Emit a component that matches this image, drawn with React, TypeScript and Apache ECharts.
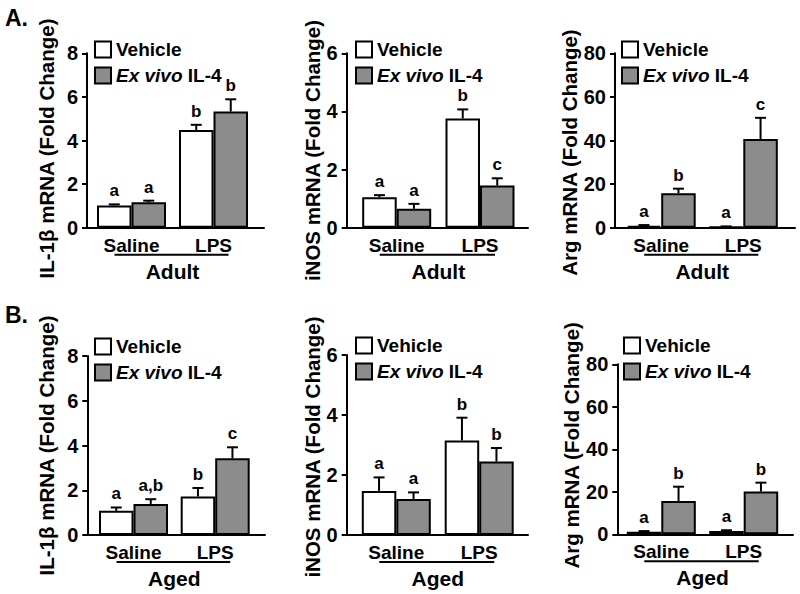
import React, { useEffect, useRef } from 'react';
import * as echarts from 'echarts';

// ---------- data ----------
const categories = ['Saline', 'LPS'];
const seriesNames = ['Vehicle', 'Ex vivo IL-4'];

const il1bTicks = [0, 2, 4, 6, 8];
const inosTicks = [0, 2, 4, 6];
const argTicks = [0, 20, 40, 60, 80];

// A. Adult
const il1bAdultVehicle = [1.02, 4.48];
const il1bAdultVehicleSem = [0.05, 0.24];
const il1bAdultIL4 = [1.17, 5.33];
const il1bAdultIL4Sem = [0.07, 0.56];
const il1bAdultVehicleLetters = ['a', 'b'];
const il1bAdultIL4Letters = ['a', 'b'];

const inosAdultVehicle = [1.05, 3.76];
const inosAdultVehicleSem = [0.07, 0.31];
const inosAdultIL4 = [0.65, 1.45];
const inosAdultIL4Sem = [0.17, 0.25];
const inosAdultVehicleLetters = ['a', 'b'];
const inosAdultIL4Letters = ['a', 'c'];

const argAdultVehicle = [0.9, 0.4];
const argAdultVehicleSem = [0.3, 0.2];
const argAdultIL4 = [15.8, 40.7];
const argAdultIL4Sem = [2.1, 9.7];
const argAdultVehicleLetters = ['a', 'a'];
const argAdultIL4Letters = ['b', 'c'];

// B. Aged
const il1bAgedVehicle = [1.08, 1.72];
const il1bAgedVehicleSem = [0.15, 0.38];
const il1bAgedIL4 = [1.38, 3.43];
const il1bAgedIL4Sem = [0.22, 0.49];
const il1bAgedVehicleLetters = ['a', 'b'];
const il1bAgedIL4Letters = ['a,b', 'c'];

const inosAgedVehicle = [1.47, 3.15];
const inosAgedVehicleSem = [0.45, 0.76];
const inosAgedIL4 = [1.2, 2.45];
const inosAgedIL4Sem = [0.22, 0.45];
const inosAgedVehicleLetters = ['a', 'b'];
const inosAgedIL4Letters = ['a', 'b'];

const argAgedVehicle = [1.2, 1.5];
const argAgedVehicleSem = [0.3, 0.4];
const argAgedIL4 = [15.7, 20.1];
const argAgedIL4Sem = [6.7, 4.2];
const argAgedVehicleLetters = ['a', 'a'];
const argAgedIL4Letters = ['b', 'b'];

const panels = [
  { yName: 'IL-1β mRNA (Fold Change)', group: 'Adult', ticks: il1bTicks, veh: il1bAdultVehicle, vehSem: il1bAdultVehicleSem, il4: il1bAdultIL4, il4Sem: il1bAdultIL4Sem, vehL: il1bAdultVehicleLetters, il4L: il1bAdultIL4Letters },
  { yName: 'iNOS mRNA (Fold Change)', group: 'Adult', ticks: inosTicks, veh: inosAdultVehicle, vehSem: inosAdultVehicleSem, il4: inosAdultIL4, il4Sem: inosAdultIL4Sem, vehL: inosAdultVehicleLetters, il4L: inosAdultIL4Letters },
  { yName: 'Arg mRNA (Fold Change)', group: 'Adult', ticks: argTicks, veh: argAdultVehicle, vehSem: argAdultVehicleSem, il4: argAdultIL4, il4Sem: argAdultIL4Sem, vehL: argAdultVehicleLetters, il4L: argAdultIL4Letters },
  { yName: 'IL-1β mRNA (Fold Change)', group: 'Aged', ticks: il1bTicks, veh: il1bAgedVehicle, vehSem: il1bAgedVehicleSem, il4: il1bAgedIL4, il4Sem: il1bAgedIL4Sem, vehL: il1bAgedVehicleLetters, il4L: il1bAgedIL4Letters },
  { yName: 'iNOS mRNA (Fold Change)', group: 'Aged', ticks: inosTicks, veh: inosAgedVehicle, vehSem: inosAgedVehicleSem, il4: inosAgedIL4, il4Sem: inosAgedIL4Sem, vehL: inosAgedVehicleLetters, il4L: inosAgedIL4Letters },
  { yName: 'Arg mRNA (Fold Change)', group: 'Aged', ticks: argTicks, veh: argAgedVehicle, vehSem: argAgedVehicleSem, il4: argAgedIL4, il4Sem: argAgedIL4Sem, vehL: argAgedVehicleLetters, il4L: argAgedIL4Letters },
];

// ---------- layout (pixels) ----------
const layouts = [
  { axisX: 87, axisEnd: 264, top: 53.3, zero: 227.7, c1: 131.5, c2: 213.5, nameGap: 30, nameShift: 8, legX: 94, legY: 40 },
  { axisX: 346.7, axisEnd: 528, top: 53.3, zero: 227.7, c1: 396.7, c2: 480, nameGap: 22, nameShift: 10, legX: 355, legY: 40 },
  { axisX: 615, axisEnd: 795, top: 53.3, zero: 227.7, c1: 661.2, c2: 743.3, nameGap: 30, nameShift: 12, legX: 621, legY: 40 },
  { axisX: 87.3, axisEnd: 265, top: 356, zero: 535, c1: 133.5, c2: 215.2, nameGap: 30, nameShift: 0, legX: 94, legY: 337 },
  { axisX: 346.7, axisEnd: 528, top: 355, zero: 535, c1: 396.3, c2: 479.2, nameGap: 22, nameShift: 2, legX: 355, legY: 336 },
  { axisX: 617.3, axisEnd: 793, top: 364.3, zero: 534.3, c1: 661.3, c2: 743.7, nameGap: 32, nameShift: -4, legX: 623, legY: 336 },
];

const FONT = '"Liberation Sans", Arial, Helvetica, sans-serif';
const GRAY = '#8c8c8c';
const BAR_W = 34.5;

function makeErrorRenderer(sign: number, letters: string[]) {
  return (params: any, api: any) => {
    const cat = api.value(0);
    const mean = api.value(1);
    const sem = api.value(2);
    const base = api.coord([cat, mean]);
    const tip = api.coord([cat, mean + sem]);
    const x = base[0] + (sign * BAR_W) / 2;
    return {
      type: 'group',
      children: [
        { type: 'line', shape: { x1: x, y1: base[1], x2: x, y2: tip[1] }, style: { stroke: '#000', lineWidth: 2 } },
        { type: 'line', shape: { x1: x - 5.5, y1: tip[1], x2: x + 5.5, y2: tip[1] }, style: { stroke: '#000', lineWidth: 2 } },
        {
          type: 'text',
          x,
          y: tip[1] - 5,
          style: {
            text: letters[params.dataIndex],
            align: 'center',
            verticalAlign: 'bottom',
            fontSize: 17,
            fontWeight: 'bold',
            fontFamily: FONT,
            fill: '#000',
          },
        },
      ],
    };
  };
}

function buildOption() {
  const grid: any[] = [];
  const xAxis: any[] = [];
  const yAxis: any[] = [];
  const series: any[] = [];
  const legend: any[] = [];
  const graphic: any[] = [];

  panels.forEach((p, i) => {
    const L = layouts[i];
    const min = p.ticks[0];
    const max = p.ticks[p.ticks.length - 1];
    const interval = p.ticks[1] - p.ticks[0];
    const step = L.c2 - L.c1;

    const frameGrid = grid.length;
    grid.push({ left: L.axisX, top: L.top, width: L.axisEnd - L.axisX, height: L.zero - L.top });
    const dataGrid = grid.length;
    grid.push({ left: L.c1 - step / 2, top: L.top, width: step * 2, height: L.zero - L.top });

    xAxis.push({
      gridIndex: frameGrid, type: 'value', min: 0, max: 1,
      axisLine: { show: true, onZero: false, lineStyle: { color: '#000', width: 2 } },
      axisTick: { show: false }, axisLabel: { show: false }, splitLine: { show: false },
    });
    const shift = L.nameShift;
    yAxis.push({
      gridIndex: frameGrid, type: 'value', min, max, interval,
      axisLine: { show: true, onZero: false, lineStyle: { color: '#000', width: 2 } },
      axisTick: { show: true, length: 5, lineStyle: { color: '#000', width: 2 } },
      axisLabel: { margin: 9, fontSize: 20, fontWeight: 'bold', color: '#000', fontFamily: FONT },
      splitLine: { show: false },
      name: p.yName, nameLocation: 'middle', nameGap: L.nameGap,
      nameTextStyle: {
        fontSize: 20.5, fontWeight: 'bold', color: '#000', fontFamily: FONT,
        padding: shift >= 0 ? [0, shift * 2, 0, 0] : [0, 0, 0, -shift * 2],
      },
    });

    const xi = xAxis.length;
    xAxis.push({
      gridIndex: dataGrid, type: 'category', data: categories,
      axisLine: { show: false }, axisTick: { show: false },
      axisLabel: { margin: 8, fontSize: 19, fontWeight: 'bold', color: '#000', fontFamily: FONT },
      name: p.group, nameLocation: 'middle', nameGap: 33,
      nameTextStyle: { fontSize: 21, fontWeight: 'bold', color: '#000', fontFamily: FONT },
    });
    const yi = yAxis.length;
    yAxis.push({ gridIndex: dataGrid, type: 'value', min, max, show: false });

    series.push({
      type: 'bar', name: seriesNames[0], xAxisIndex: xi, yAxisIndex: yi, data: p.veh,
      barWidth: BAR_W, barGap: '0%',
      itemStyle: { color: '#ffffff', borderColor: '#000', borderWidth: 2 },
    });
    series.push({
      type: 'bar', name: seriesNames[1], xAxisIndex: xi, yAxisIndex: yi, data: p.il4,
      barWidth: BAR_W, barGap: '0%',
      itemStyle: { color: GRAY, borderColor: '#000', borderWidth: 2 },
    });
    series.push({
      type: 'custom', xAxisIndex: xi, yAxisIndex: yi, z: 5,
      data: p.veh.map((v, k) => [k, v, p.vehSem[k]]),
      renderItem: makeErrorRenderer(-1, p.vehL),
    });
    series.push({
      type: 'custom', xAxisIndex: xi, yAxisIndex: yi, z: 5,
      data: p.il4.map((v, k) => [k, v, p.il4Sem[k]]),
      renderItem: makeErrorRenderer(1, p.il4L),
    });

    legend.push({
      left: L.legX, top: L.legY, orient: 'vertical', padding: 0, itemGap: 7,
      itemWidth: 16, itemHeight: 16, icon: 'rect', selectedMode: false,
      data: seriesNames,
      itemStyle: { borderColor: '#000', borderWidth: 2 },
      formatter: (n: string) => (n === 'Ex vivo IL-4' ? '{i|Ex vivo} IL-4' : n),
      textStyle: {
        fontSize: 19, fontWeight: 'bold', color: '#000', fontFamily: FONT, lineHeight: 16,
        rich: { i: { fontSize: 19, fontWeight: 'bold', fontStyle: 'italic', color: '#000', fontFamily: FONT, lineHeight: 16 } },
      },
    });

    graphic.push({
      type: 'line',
      shape: { x1: L.c1 - 17, y1: L.zero + 27, x2: L.c2 + 15, y2: L.zero + 27 },
      style: { stroke: '#000', lineWidth: 2 },
    });
  });

  graphic.push({
    type: 'text', left: 5, top: 6,
    style: { text: 'A.', fontSize: 23, fontWeight: 'bold', fontFamily: FONT, fill: '#000' },
  });
  graphic.push({
    type: 'text', left: 5, top: 303,
    style: { text: 'B.', fontSize: 23, fontWeight: 'bold', fontFamily: FONT, fill: '#000' },
  });

  return {
    animation: false,
    backgroundColor: '#ffffff',
    grid, xAxis, yAxis, series, legend, graphic,
  };
}

export default function App() {
  const ref = useRef<HTMLDivElement>(null);
  useEffect(() => {
    document.body.style.margin = '0';
    if (!ref.current) return;
    const chart = echarts.init(ref.current, undefined, { renderer: 'svg' });
    chart.setOption(buildOption());
    return () => chart.dispose();
  }, []);
  return <div ref={ref} style={{ width: 800, height: 594 }} />;
}
